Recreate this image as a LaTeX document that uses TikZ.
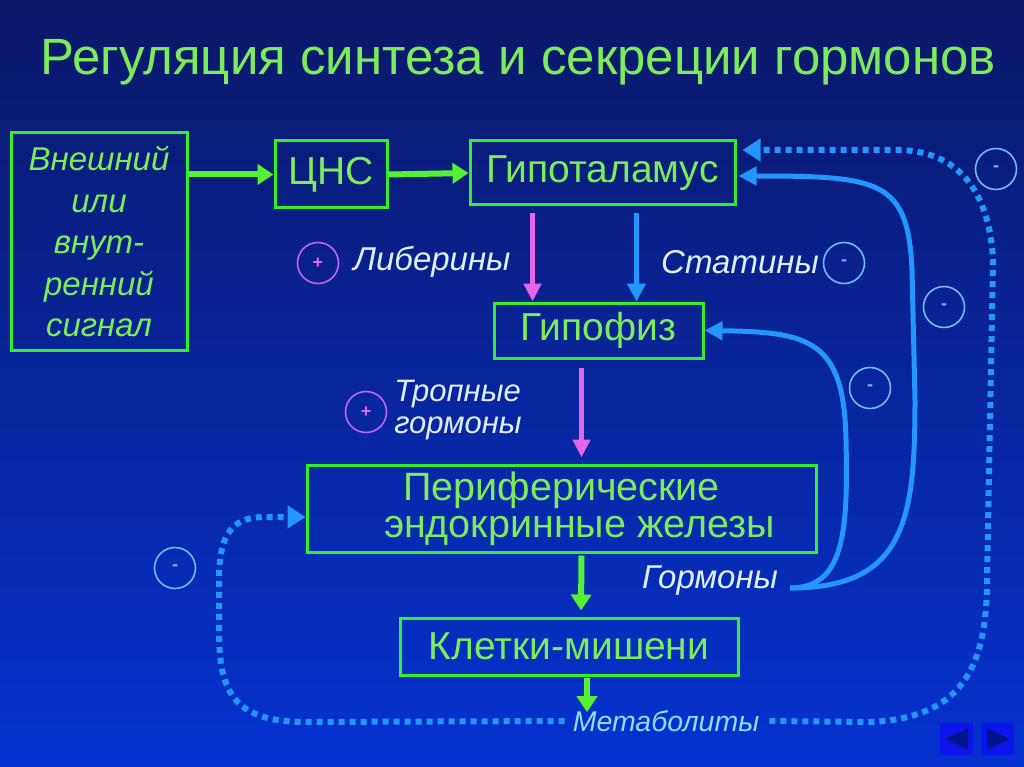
\documentclass[tikz,border=0pt]{standalone}
\usepackage{fontspec}
\setmainfont{Liberation Sans}
\usetikzlibrary{arrows.meta,positioning,calc}
\definecolor{SlideTop}{RGB}{12,24,104}
\definecolor{SlideBottom}{RGB}{4,50,208}
\definecolor{SlideBorder}{RGB}{50,238,50}
\definecolor{SlideGreen}{RGB}{124,236,92}
\definecolor{SlideArrowGreen}{RGB}{84,242,52}
\definecolor{SlidePink}{RGB}{226,104,232}
\definecolor{SlideViolet}{RGB}{196,100,236}
\definecolor{SlideBlue}{RGB}{36,150,255}
\definecolor{SlideRing}{RGB}{110,188,255}
\definecolor{SlideWhite}{RGB}{222,240,255}
\definecolor{SlideCyan}{RGB}{140,222,255}
\definecolor{NavBlue}{RGB}{12,22,236}
\definecolor{NavDark}{RGB}{0,22,140}

\begin{document}
\begin{tikzpicture}[x=1pt, y=-1pt,
  box/.style={draw=SlideBorder, line width=3pt, text=SlideGreen, inner sep=0pt,
    font=\fontsize{39}{44}\selectfont},
  lbl/.style={text=SlideWhite, inner sep=0pt, font=\fontsize{33}{36}\selectfont\itshape},
  ring/.style={circle, draw=SlideRing, line width=1.6pt, minimum size=41pt,
    inner sep=0pt, text=SlideRing, font=\fontsize{18}{18}\selectfont\bfseries},
  pring/.style={ring, draw=SlideViolet, text=SlidePink},
  grn/.style={draw=SlideArrowGreen, line width=6pt, -{Triangle[length=16pt,width=20pt]}},
  pnk/.style={draw=SlidePink, line width=5pt, -{Triangle[length=18pt,width=17pt]}},
  blu/.style={draw=SlideBlue, line width=5pt, -{Triangle[length=18pt,width=18pt]}},
  dots/.style={draw=SlideBlue, line width=6pt, dash pattern=on 6pt off 5pt,
    -{Triangle[length=18pt,width=22pt]}}
]
% background
\shade[top color=SlideTop, bottom color=SlideBottom] (0,0) rectangle (1024,767);

% title
\node[text=SlideGreen, font=\fontsize{51}{56}\selectfont] (ttl) at (518,62)
  {Регуляция синтеза и секреции гормонов};

% boxes
\node[box, minimum width=176pt, minimum height=217pt, align=center,
  font=\fontsize{33}{41.5}\selectfont\itshape] (signal) at (99,241.5)
  {Внешний\\или\\внут-\\ренний\\сигнал};
\node[box, minimum width=112pt, minimum height=67pt] (cns) at (331,174.5) {ЦНС};
\node[box, minimum width=265pt, minimum height=64pt] (hypoth) at (602.5,173) {Гипоталамус};
\node[box, minimum width=209pt, minimum height=55pt] (hypoph) at (598.5,330.5) {Гипофиз};
\node[box, minimum width=509pt, minimum height=87pt, align=center,
  font=\fontsize{39.5}{37}\selectfont] (periph) at (561.5,508.5)
  {Периферические\\\hspace*{36pt}эндокринные железы};
\node[box, minimum width=338pt, minimum height=57pt] (cells) at (569,646.5) {Клетки-мишени};

% labels
\node[lbl] (lib) at (432,262) {Либерины};
\node[lbl] (stat) at (740,262) {Статины};
\node[lbl, align=left, font=\fontsize{31}{32}\selectfont\itshape] (trop) at (458,410)
  {Тропные\\гормоны};
\node[lbl] (gorm) at (710,581) {Гормоны};
\node[lbl, text=SlideCyan, font=\fontsize{28.5}{32}\selectfont\itshape] (metab) at (666,721) {Метаболиты};

% plus / minus rings
\node[pring] (p1) at (318,263) {+};
\node[pring] (p2) at (366,412) {+};
\node[ring] (m1) at (844,263) {-};
\node[ring] (m2) at (996,169) {-};
\node[ring] (m3) at (944,307) {-};
\node[ring] (m4) at (870,388) {-};
\node[ring] (m5) at (175,568) {-};

% main chain
\draw[grn] (signal.east |- cns.west) -- (cns.west);
\draw[grn] (cns.east) -- (hypoth.west);
\draw[pnk] ([xshift=-70pt,yshift=-7pt]hypoth.south) -- ([xshift=-66pt]hypoph.north);
\draw[blu] ([xshift=34pt,yshift=-7pt]hypoth.south) -- ([xshift=38pt]hypoph.north);
\draw[pnk] ([xshift=-17pt,yshift=-8pt]hypoph.south) -- ([xshift=20pt,yshift=6pt]periph.north);
\draw[grn] ([xshift=20pt,yshift=-2pt]periph.south) -- ([xshift=12pt,yshift=6pt]cells.north);
\draw[grn] ([xshift=18pt,yshift=-1pt]cells.south) -- ([xshift=-79pt,yshift=-2pt]metab.north);

% feedback by hormones
\draw[blu] ([xshift=12pt,yshift=-7pt]gorm.east) .. controls (845,588) and (848,530) ..
  (846,440) .. controls (844,340) and (810,332) .. (hypoph.east);
\draw[blu] ([xshift=12pt,yshift=-7pt]gorm.east) .. controls (905,588) and (915,520) ..
  (915,400) -- (912,270) .. controls (908,180) and (880,176) .. ([xshift=2pt,yshift=-3pt]hypoth.east);

% feedback by metabolites
\draw[dots] ([xshift=-8pt]metab.west) -- (300,722) .. controls (232,720) and (219,690) ..
  (219,630) -- (219,580) .. controls (219,530) and (235,517) .. (265,517) -- (periph.west |- 0,517);
\draw[dots] ([xshift=10pt]metab.east) -- (870,722) .. controls (960,718) and (987,670) ..
  (987,580) -- (993,260) .. controls (990,200) and (965,152) .. (900,150)
  -- ([xshift=6pt,yshift=23pt]hypoth.east);

% navigation buttons
\fill[NavBlue] (940,723) rectangle (973,755);
\fill[NavBlue] (981,723) rectangle (1014,755);
\fill[NavDark] (945,739) -- (968,728) -- (968,750) -- cycle;
\fill[NavDark] (1010,739) -- (987,728) -- (987,750) -- cycle;
\end{tikzpicture}
\end{document}
